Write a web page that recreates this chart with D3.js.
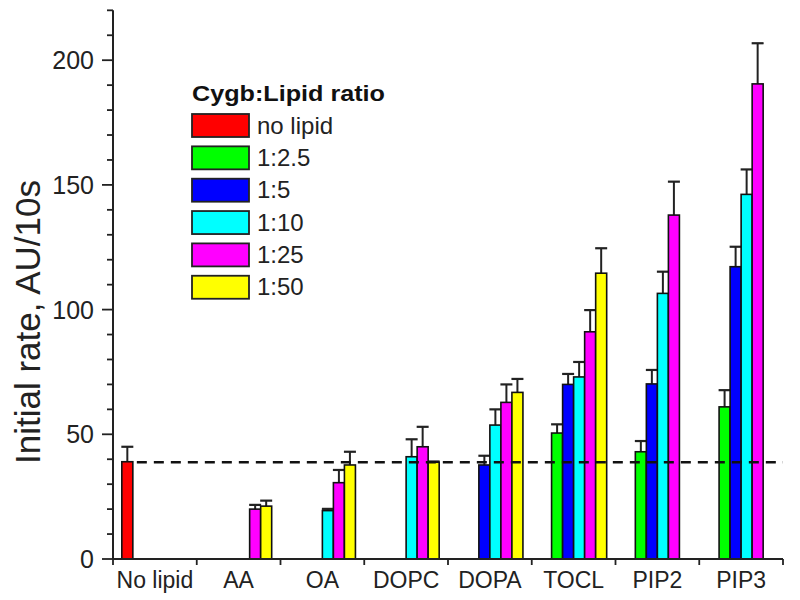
<!DOCTYPE html>
<html><head><meta charset="utf-8">
<script src="https://cdn.jsdelivr.net/npm/d3@7"></script>
<style>html,body{margin:0;padding:0;background:#fff;} svg{display:block;font-family:"Liberation Sans",Arial,sans-serif;}</style>
</head><body>
<svg id="chart" width="800" height="600"></svg>
<script>
const categories = ["No lipid","AA","OA","DOPC","DOPA","TOCL","PIP2","PIP3"];
const seriesNames = ["no lipid","1:2.5","1:5","1:10","1:25","1:50"];
const seriesColors = ["#ff0000","#00ff00","#0000ff","#00ffff","#ff00ff","#ffff00"];
const valsNoLipid = [39, null, null, null, null, null, null, null];
const vals1_2_5   = [null, null, null, null, null, 50.5, 43, 61];
const vals1_5     = [null, null, null, null, 37.7, 70, 70.2, 117.2];
const vals1_10    = [null, null, 19.4, 41, 53.7, 73, 106.5, 146.2];
const vals1_25    = [null, 20, 30.6, 45, 62.8, 91.1, 137.9, 190.5];
const vals1_50    = [null, 21.2, 37.7, 38.8, 66.8, 114.6, null, null];
const errNoLipid = [6, null, null, null, null, null, null, null];
const err1_2_5   = [null, null, null, null, null, 3.5, 4.3, 6.7];
const err1_5     = [null, null, null, null, 3.7, 4.2, 5.6, 8];
const err1_10    = [null, null, 0.7, 7, 6.3, 6, 8.7, 10];
const err1_25    = [null, 1.7, 5.1, 8, 7.2, 8.7, 13.4, 16.3];
const err1_50    = [null, 2.2, 5.3, 0.3, 5.4, 10, null, null];
const baselineValue = 38.8;
const yMajorTicks = [0, 50, 100, 150, 200];
const yMinorTicks = d3.range(0, 221, 10);

const seriesValues = [valsNoLipid, vals1_2_5, vals1_5, vals1_10, vals1_25, vals1_50];
const seriesErrors = [errNoLipid, err1_2_5, err1_5, err1_10, err1_25, err1_50];

const svg = d3.select("#chart");
const x0 = 113, x1 = 783, yBase = 559;
const x = d3.scaleBand().domain(categories).range([x0, x1]).paddingInner(0).paddingOuter(0);
const xs = d3.scaleBand().domain(d3.range(seriesNames.length)).range([0, x.bandwidth()]).paddingInner(0).paddingOuter(0.8);
const y = d3.scaleLinear().domain([0, 220]).range([yBase, yBase - 220 * 2.494]);

const data = [];
seriesValues.forEach((arr, si) => arr.forEach((v, ci) => {
  if (v != null) data.push({s: si, c: categories[ci], v: v, e: seriesErrors[si][ci] || 0});
}));

const g = svg.append("g");

// error bars
const eb = g.selectAll("g.err").data(data.filter(d => d.e > 0)).join("g");
eb.append("line")
  .attr("x1", d => x(d.c) + xs(d.s) + xs.bandwidth() / 2)
  .attr("x2", d => x(d.c) + xs(d.s) + xs.bandwidth() / 2)
  .attr("y1", d => y(d.v)).attr("y2", d => y(d.v + d.e))
  .attr("stroke", "#222").attr("stroke-width", 2);
eb.append("line")
  .attr("x1", d => x(d.c) + xs(d.s) + xs.bandwidth() / 2 - 6)
  .attr("x2", d => x(d.c) + xs(d.s) + xs.bandwidth() / 2 + 6)
  .attr("y1", d => y(d.v + d.e)).attr("y2", d => y(d.v + d.e))
  .attr("stroke", "#222").attr("stroke-width", 2.2);

g.selectAll("rect.bar").data(data).join("rect")
  .attr("x", d => x(d.c) + xs(d.s))
  .attr("y", d => y(d.v))
  .attr("width", xs.bandwidth())
  .attr("height", d => yBase - y(d.v))
  .attr("fill", d => seriesColors[d.s])
  .attr("stroke", "#111").attr("stroke-width", 1.6);

// dashed baseline (drawn over bars, starting after the no-lipid bar)
g.append("line").attr("x1", x(categories[0]) + xs(1) + 4).attr("x2", x1).attr("y1", y(baselineValue)).attr("y2", y(baselineValue))
  .attr("stroke", "#111").attr("stroke-width", 2.6).attr("stroke-dasharray", "10,7");

// y axis
const yAxis = svg.append("g").attr("transform", `translate(${x0},0)`);
yAxis.append("line").attr("x1", 0).attr("x2", 0).attr("y1", y(220)).attr("y2", yBase).attr("stroke", "#222").attr("stroke-width", 2);
yAxis.selectAll("line.minor").data(yMinorTicks.filter(t => !yMajorTicks.includes(t))).join("line")
  .attr("x1", -6).attr("x2", 0).attr("y1", d => y(d)).attr("y2", d => y(d)).attr("stroke", "#222").attr("stroke-width", 1.8);
yAxis.selectAll("line.major").data(yMajorTicks).join("line")
  .attr("x1", -11).attr("x2", 0).attr("y1", d => y(d)).attr("y2", d => y(d)).attr("stroke", "#222").attr("stroke-width", 1.8);
yAxis.selectAll("text").data(yMajorTicks).join("text")
  .attr("x", -19).attr("y", d => y(d)).attr("dy", "0.36em").attr("text-anchor", "end")
  .attr("font-size", 25).attr("fill", "#222").text(d => d);

// x axis
const xAxis = svg.append("g");
xAxis.append("line").attr("x1", x0).attr("x2", x1).attr("y1", yBase).attr("y2", yBase).attr("stroke", "#222").attr("stroke-width", 2);
const bounds = categories.map(c => x(c)).concat([x1]);
xAxis.selectAll("line.tick").data(bounds).join("line")
  .attr("x1", d => d).attr("x2", d => d).attr("y1", yBase).attr("y2", yBase + 6).attr("stroke", "#222").attr("stroke-width", 1.8);
xAxis.selectAll("text").data(categories).join("text")
  .attr("x", d => x(d) + x.bandwidth() / 2).attr("y", 588).attr("text-anchor", "middle")
  .attr("font-size", 23).attr("fill", "#222").text(d => d);

// y label
svg.append("text").attr("transform", "translate(40,322) rotate(-90)").attr("text-anchor", "middle")
  .attr("font-size", 35).attr("fill", "#222").text("Initial rate, AU/10s");

// legend
const leg = svg.append("g");
leg.append("text").attr("x", 192).attr("y", 101).attr("font-size", 22).attr("font-weight", "bold").attr("fill", "#111")
  .attr("textLength", 193).attr("lengthAdjust", "spacingAndGlyphs").text("Cygb:Lipid ratio");
const items = leg.selectAll("g.item").data(seriesNames).join("g")
  .attr("transform", (d, i) => `translate(192,${114 + i * 32.35})`);
items.append("rect").attr("width", 57).attr("height", 23)
  .attr("fill", (d, i) => seriesColors[i]).attr("stroke", "#222").attr("stroke-width", 1.8);
items.append("text").attr("x", 65).attr("y", 19.5).attr("font-size", 24).attr("fill", "#222").text(d => d);
</script>
</body></html>
